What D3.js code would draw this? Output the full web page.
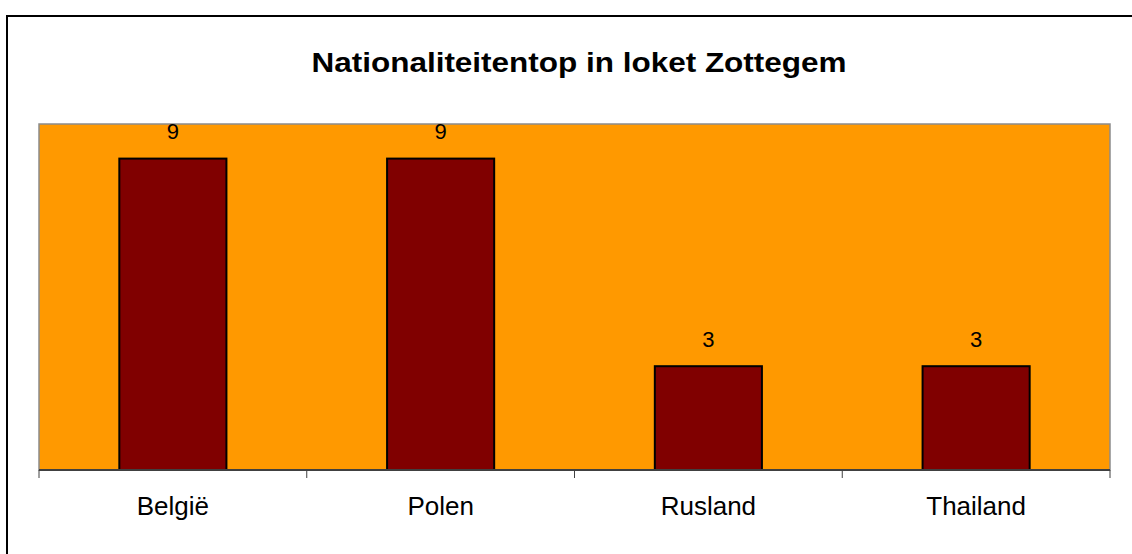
<!DOCTYPE html>
<meta charset="utf-8">
<script src="https://d3js.org/d3.v7.min.js"></script>
<style>
body { margin: 0; background: #fff; }
text { font-family: "Liberation Sans", Arial, sans-serif; }
</style>
<svg id="chart" width="1132" height="554"></svg>
<script>
// data
const categories = ["België", "Polen", "Rusland", "Thailand"]
const values = [9, 9, 3, 3]
const yMax = 10

const svg = d3.select("#chart")

// outer frame (runs off the right and bottom edge)
svg.append("rect")
  .attr("x", 7).attr("y", 16)
  .attr("width", 1200).attr("height", 600)
  .attr("fill", "none")
  .attr("stroke", "#000")
  .attr("stroke-width", 2)

const plot = { left: 39, top: 124, right: 1110, bottom: 470 }

const x = d3.scaleBand()
  .domain(categories)
  .range([plot.left, plot.right])
  .paddingInner(0.6)
  .paddingOuter(0.3)

const y = d3.scaleLinear()
  .domain([0, yMax])
  .range([plot.bottom, plot.top])

// plot area
svg.append("rect")
  .attr("x", plot.left).attr("y", plot.top)
  .attr("width", plot.right - plot.left)
  .attr("height", plot.bottom - plot.top)
  .attr("fill", "#ff9900")
  .attr("stroke", "#8c8c8c")
  .attr("stroke-width", 1.5)

// title
svg.append("text")
  .attr("x", 579).attr("y", 72)
  .attr("text-anchor", "middle")
  .attr("font-weight", "bold")
  .attr("font-size", 27)
  .attr("textLength", 535)
  .attr("lengthAdjust", "spacingAndGlyphs")
  .text("Nationaliteitentop in loket Zottegem")

// bars
svg.append("g")
  .selectAll("rect")
  .data(values)
  .join("rect")
    .attr("x", (d, i) => x(categories[i]))
    .attr("y", d => y(d))
    .attr("width", x.bandwidth())
    .attr("height", d => y(0) - y(d))
    .attr("fill", "#800000")
    .attr("stroke", "#000")
    .attr("stroke-width", 2)

// value labels
svg.append("g")
  .selectAll("text")
  .data(values)
  .join("text")
    .attr("x", (d, i) => x(categories[i]) + x.bandwidth() / 2)
    .attr("y", d => y(d) - 19.5)
    .attr("text-anchor", "middle")
    .attr("font-size", 22)
    .text(d => d)

// category axis: ticks sit on band boundaries
const step = x.step()
const bounds = d3.range(categories.length + 1).map(i => plot.left + i * step)

svg.append("line")
  .attr("x1", plot.left).attr("x2", plot.right)
  .attr("y1", plot.bottom).attr("y2", plot.bottom)
  .attr("stroke", "#404040")
  .attr("stroke-width", 2)

svg.append("g")
  .selectAll("line")
  .data(bounds)
  .join("line")
    .attr("x1", d => d).attr("x2", d => d)
    .attr("y1", plot.bottom).attr("y2", plot.bottom + 8)
    .attr("stroke", "#404040")
    .attr("stroke-width", 1)

svg.append("g")
  .selectAll("text")
  .data(categories)
  .join("text")
    .attr("x", d => x(d) + x.bandwidth() / 2)
    .attr("y", 515)
    .attr("text-anchor", "middle")
    .attr("font-size", 26)
    .text(d => d)
</script>
